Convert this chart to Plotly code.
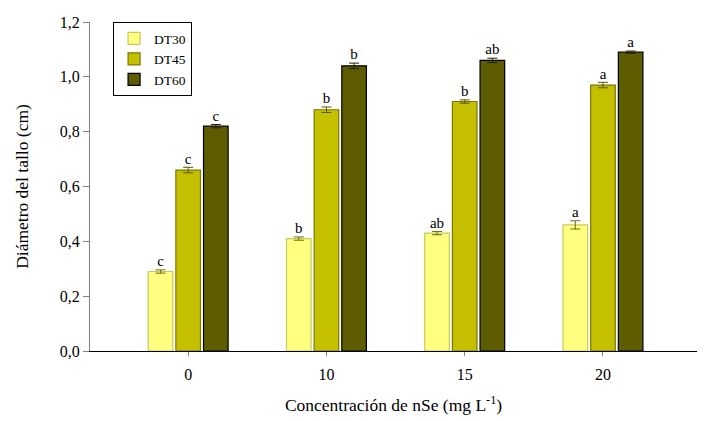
import plotly.graph_objects as go

categories = ["0", "10", "15", "20"]
series_names = ["DT30", "DT45", "DT60"]
dt30 = [0.29, 0.41, 0.43, 0.46]
dt45 = [0.66, 0.88, 0.91, 0.97]
dt60 = [0.82, 1.04, 1.06, 1.09]
err30 = [0.006, 0.006, 0.006, 0.015]
err45 = [0.010, 0.010, 0.006, 0.010]
err60 = [0.006, 0.010, 0.008, 0.004]
let30 = ["c", "b", "ab", "a"]
let45 = ["c", "b", "b", "a"]
let60 = ["c", "b", "ab", "a"]
y_ticks = [0.0, 0.2, 0.4, 0.6, 0.8, 1.0, 1.2]
y_ticklabels = ["0,0", "0,2", "0,4", "0,6", "0,8", "1,0", "1,2"]

fills = ["#FFFF80", "#C4C000", "#5E5C00"]
borders = ["#C8C860", "#7A7800", "#000000"]
errcols = ["#6E6C00", "#5A5800", "#222200"]

xs = list(range(len(categories)))
width = 0.178
step = 0.2
font_family = "Liberation Serif"

fig = go.Figure()
for i, (name, vals, errs, lets) in enumerate(zip(series_names, [dt30, dt45, dt60], [err30, err45, err60], [let30, let45, let60])):
    off = -1.5 * step + i * step + (step - width) / 2
    fig.add_trace(go.Bar(
        x=xs, y=vals, name=name, width=width, offset=off,
        marker=dict(color=fills[i], line=dict(color=borders[i], width=1.2)),
        error_y=dict(type="data", array=errs, visible=True, color=errcols[i], thickness=1, width=5),
    ))
    fig.add_trace(go.Scatter(
        x=[x + off + width / 2 for x in xs],
        y=[v + e for v, e in zip(vals, errs)],
        mode="text", text=lets, textposition="top center",
        textfont=dict(family=font_family, size=15, color="black"),
        showlegend=False, hoverinfo="skip", cliponaxis=False,
    ))

fig.update_layout(
    width=706, height=421,
    margin=dict(l=82, r=17, t=14, b=78, autoexpand=False),
    paper_bgcolor="white", plot_bgcolor="white",
    font=dict(family=font_family, size=15, color="black"),
    showlegend=True,
    legend=dict(x=0.038, y=1.0, xanchor="left", yanchor="top",
                bordercolor="black", borderwidth=1, bgcolor="white",
                font=dict(family=font_family, size=13.5), tracegroupgap=2),
    xaxis=dict(range=[-0.71, 3.68], tickmode="array", tickvals=xs, ticktext=categories,
               showline=True, linecolor="black", linewidth=1, ticks="outside",
               ticklen=4, tickcolor="#808080", showgrid=False, zeroline=False,
               automargin=False, tickfont=dict(family=font_family, size=16),
               ticklabelstandoff=5,
               title=dict(text="Concentración de nSe (mg L<sup>-1</sup>)",
                          font=dict(family=font_family, size=17.5), standoff=16)),
    yaxis=dict(range=[0, 1.2], tickmode="array", tickvals=y_ticks, ticktext=y_ticklabels,
               showline=True, linecolor="#808080", linewidth=1, ticks="outside",
               ticklen=6, tickcolor="#808080", showgrid=False, zeroline=False,
               automargin=False, tickfont=dict(family=font_family, size=16),
               title=dict(text="Diámetro del tallo (cm)",
                          font=dict(family=font_family, size=17.5), standoff=26)),
)

fig.write_html("out.html")
